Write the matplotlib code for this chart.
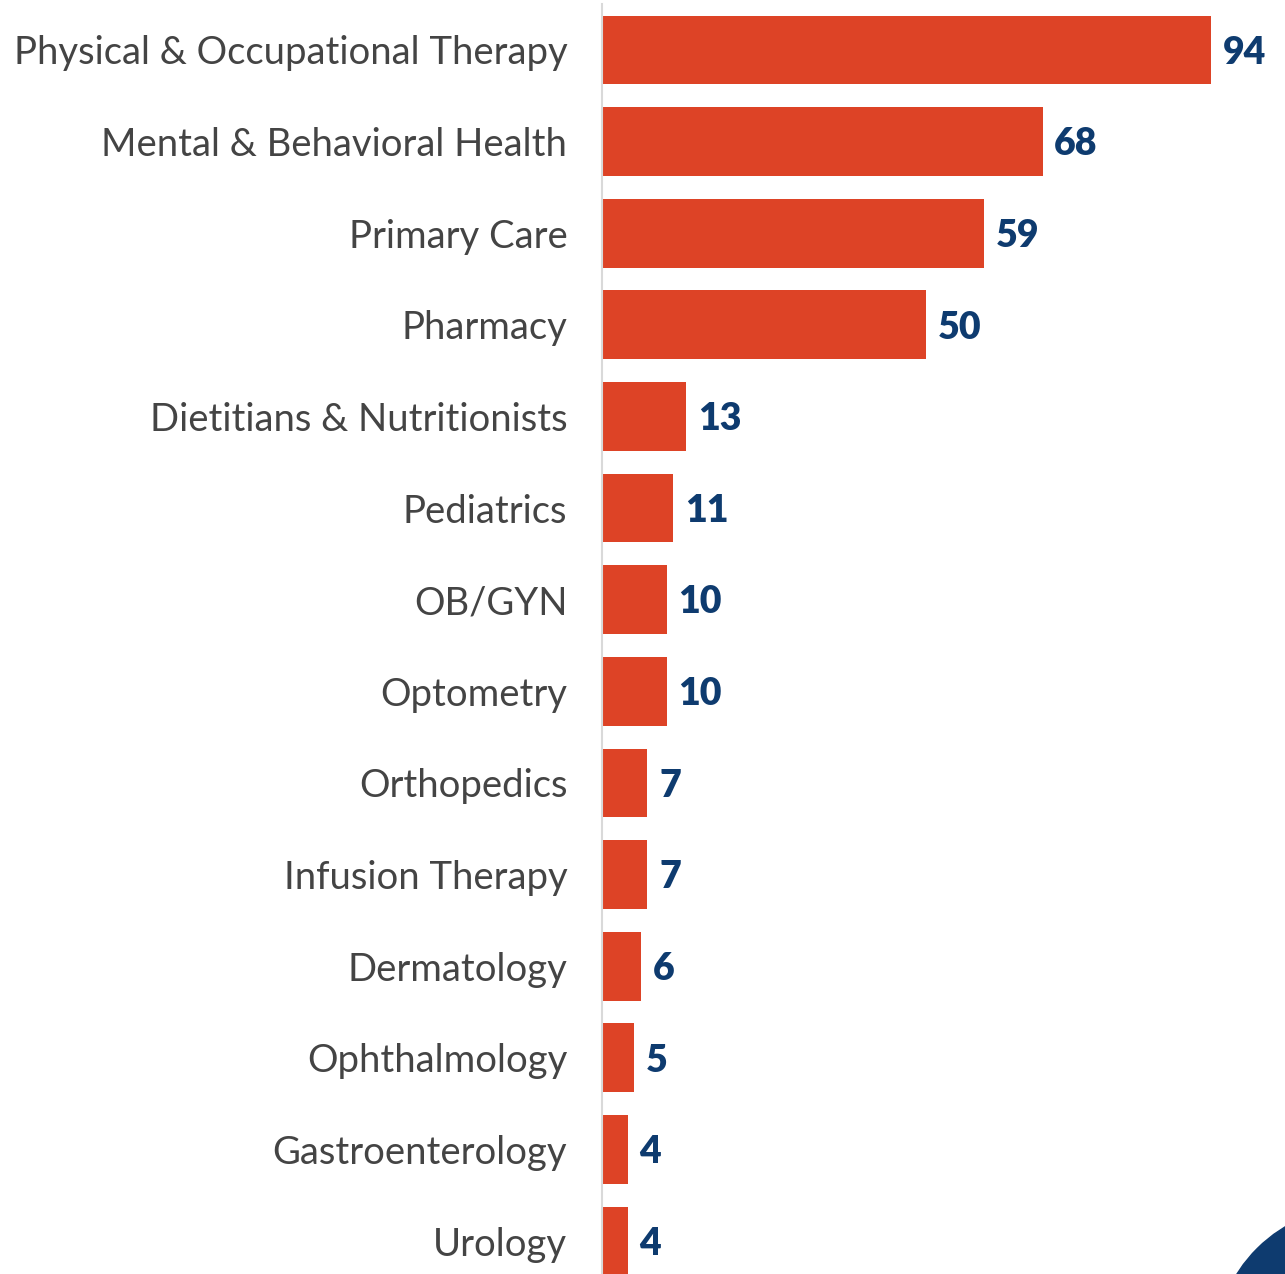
import matplotlib.pyplot as plt
from matplotlib.patches import Circle

# ---------------------------------- Data ----------------------------------
categories = ['Physical & Occupational Therapy', 'Mental & Behavioral Health',
              'Primary Care', 'Pharmacy', 'Dietitians & Nutritionists', 'Pediatrics',
              'OB/GYN', 'Optometry', 'Orthopedics', 'Infusion Therapy', 'Dermatology',
              'Ophthalmology', 'Gastroenterology', 'Urology']
values = [94, 68, 59, 50, 13, 11, 10, 10, 7, 7, 6, 5, 4, 4]

BAR_COLOR = '#DD4326'
NAVY = '#0E3B6F'
LABEL_GRAY = '#444444'

W, H = 1285, 1274
fig = plt.figure(figsize=(W / 100, H / 100), dpi=100)
ax = fig.add_axes([602 / W, 0, 1 - 602 / W, 1270 / H])

y = list(range(len(categories)))
ax.barh(y, values, height=0.75, color=BAR_COLOR)

# Value labels just past the end of each bar
for yi, v in zip(y, values):
    ax.text(v + 1.8, yi + 0.03, str(v), va='center', ha='left', fontsize=27,
            fontweight='heavy', color=NAVY, family='Lato', stretch='expanded')

ax.set_xlim(0, 105.4)
ax.set_ylim(13.36, -0.502)
ax.set_yticks(y)
ax.set_yticklabels(categories, fontsize=27.5, color=LABEL_GRAY, family='Lato')
ax.tick_params(axis='y', length=0, pad=25)
ax.set_xticks([])

for side in ['top', 'right', 'bottom']:
    ax.spines[side].set_visible(False)
ax.spines['left'].set_color('#D9D9D9')
ax.spines['left'].set_linewidth(1.5)

# Navy corner decoration, bottom right
fig.patches.append(Circle((1360 / W, -76 / H), 145 / W, transform=fig.transFigure,
                          color=NAVY, zorder=5))

fig.savefig('out.png', dpi=100)
